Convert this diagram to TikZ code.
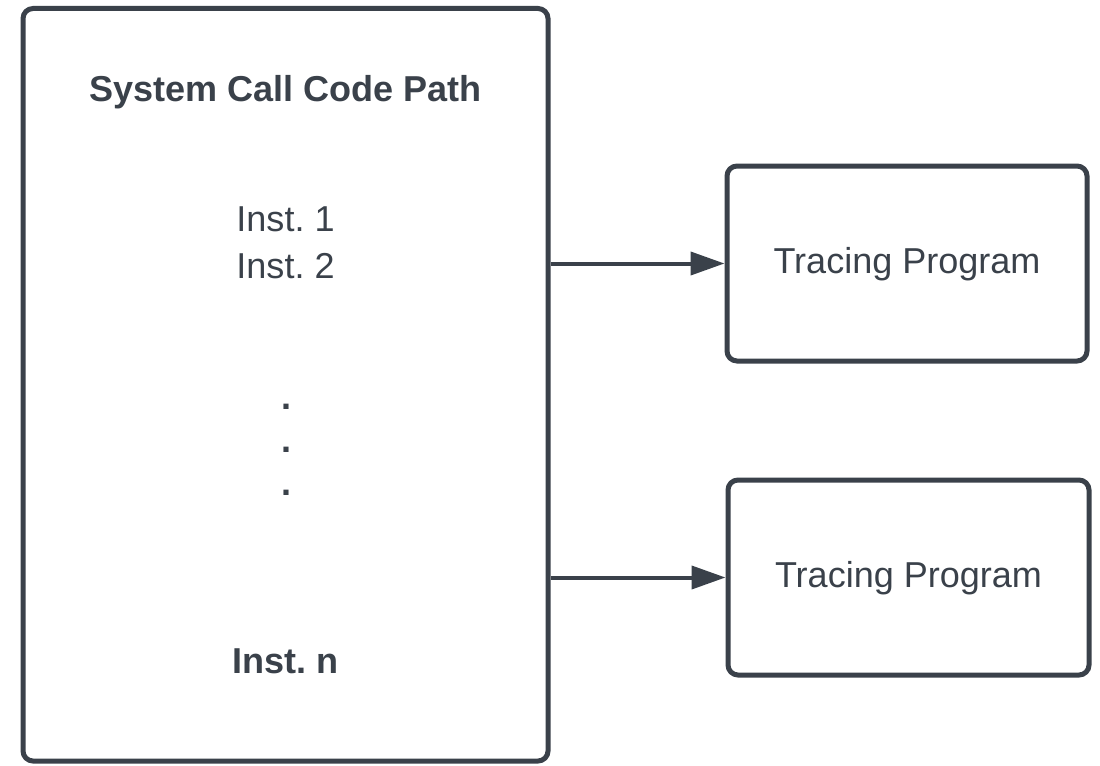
\documentclass[tikz,border=0pt]{standalone}
\usepackage{fontspec}
\setmainfont{Liberation Sans}
\usetikzlibrary{arrows.meta}
\definecolor{ink}{HTML}{3A414A}
\begin{document}
\frenchspacing
\begin{tikzpicture}
\tikzstyle{every node}+=[inner sep=0pt, text=ink, font=\fontsize{20.5}{26.7}\selectfont]
\tikzstyle{box}=[draw=ink, line width=0.1cm, rounded corners=0.2cm]
\tikzstyle{link}=[draw=ink, line width=0.08cm, -{Triangle[length=0.68cm,width=0.46cm]}]
\useasboundingbox (0,0) rectangle (22,-15.3);
% code path
\node [box, minimum width=10.5cm, minimum height=15.05cm] (sys) at (5.71,-7.695) {};
\node (title) at (5.71,-1.84) {\bfseries System Call Code Path};
\node [align=center] (inst) at (5.71,-4.85) {Inst. 1\\Inst. 2};
\foreach \y [count=\i] in {-8.18,-9.04,-9.9}
  \node [anchor=base] (dot\i) at (5.72,\y) {\bfseries .};
\node (instn) at (5.71,-13.22) {\bfseries Inst. n};
% tracers
\node [box, minimum width=7.2cm, minimum height=3.9cm, text depth=0.12cm] (tp1) at (18.14,-5.27) {Tracing Program};
\node [box, minimum width=7.22cm, minimum height=3.9cm, text depth=0.12cm] (tp2) at (18.17,-11.55) {Tracing Program};
\draw [link] (tp1.west -| sys.east) -- (tp1.west);
\draw [link] (tp2.west -| sys.east) -- (tp2.west);
\end{tikzpicture}
\end{document}
